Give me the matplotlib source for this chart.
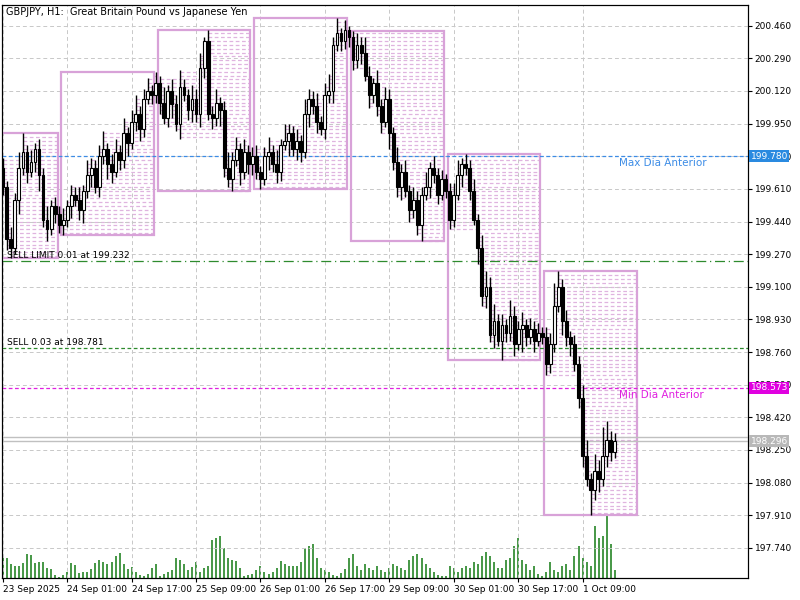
import matplotlib
matplotlib.use("Agg")
import matplotlib.pyplot as plt
import numpy as np
from matplotlib.patches import Rectangle

closes = [199.62,199.35,199.30,199.55,199.72,199.80,199.70,199.75,199.82,199.68,199.45,199.40,199.52,199.48,199.42,
 199.45,199.52,199.58,199.55,199.50,199.60,199.68,199.72,199.62,199.78,199.82,199.74,199.70,199.80,199.76,199.90,199.85,199.96,200.00,199.92,200.08,200.12,200.10,200.16,
 200.06,199.98,200.12,200.05,199.95,200.14,200.10,200.02,200.08,200.00,200.24,200.38,200.00,199.98,200.06,200.02,199.72,199.66,199.76,199.82,199.70,199.80,199.74,199.78,
 199.70,199.66,199.78,199.80,199.74,199.70,199.84,199.86,199.90,199.82,199.86,199.80,200.00,200.08,200.04,199.96,199.92,200.10,200.12,200.36,200.42,200.38,200.44,200.40,
 200.28,200.36,200.32,200.20,200.10,200.16,200.04,199.96,200.08,199.90,199.75,199.62,199.70,199.60,199.50,199.55,199.42,199.58,199.62,199.72,199.68,199.58,199.66,199.60,
 199.45,199.58,199.68,199.74,199.72,199.60,199.45,199.30,199.05,199.10,198.85,198.92,198.82,198.90,198.86,198.95,198.80,198.88,198.90,198.84,198.88,198.82,198.86,198.84,
 198.70,198.80,199.00,199.10,198.92,198.84,198.80,198.70,198.52,198.22,198.10,198.04,198.14,198.10,198.22,198.30,198.24,198.296]
first_open = 199.72
wick_up = [5,3,6,4,8,10,4,6,3,5,4,7,3,5,4,
 6,3,5,4,7,3,8,5,4,6,9,3,5,7,4,8,3,6,10,4,5,7,3,6,
 4,8,3,6,5,9,4,3,7,5,8,2,6,4,7,3,5,8,4,6,3,7,4,5,
 6,3,5,8,4,7,3,9,5,4,6,3,8,5,4,7,3,6,9,4,8,3,5,2,
 3,6,4,8,5,3,7,4,6,5,3,8,4,6,3,7,5,4,8,3,6,4,5,3,
 4,6,8,3,5,4,6,3,7,8,5,9,4,6,3,8,5,4,7,3,6,4,5,3,
 5,6,12,8,4,6,3,5,4,7,8,3,9,6,15,10,5,4]
wick_dn = [4,6,5,3,7,4,6,3,5,8,4,6,3,5,4,
 5,4,6,3,5,7,4,6,3,5,4,8,6,3,5,4,7,3,5,6,4,3,5,4,
 6,3,5,7,4,8,3,5,6,4,7,5,3,6,4,8,5,4,6,3,7,4,5,6,
 4,5,3,7,4,6,5,3,8,4,6,5,3,7,4,6,3,5,4,6,3,5,4,5,
 5,4,6,3,7,4,5,6,3,8,4,5,7,3,6,4,5,8,3,6,4,5,3,4,
 5,4,3,6,4,5,3,8,5,6,4,7,3,10,5,4,6,3,12,5,4,6,3,4,
 6,5,4,3,7,5,6,4,5,6,4,13,5,7,4,6,5,3]
volumes = [22,20,14,12,12,15,24,23,15,16,16,10,9,3,1,
 3,6,15,13,5,6,6,9,15,18,16,14,16,22,25,14,9,11,6,3,2,4,10,14,
 2,4,6,8,20,18,14,8,11,16,6,10,12,38,40,42,30,20,18,17,10,2,3,4,
 8,12,6,4,6,10,17,14,12,12,12,16,30,32,34,20,10,8,6,3,2,5,9,20,
 24,12,8,14,10,8,12,8,6,10,14,12,10,8,18,22,24,20,14,10,6,3,2,2,
 12,10,6,10,12,10,16,14,22,26,22,16,10,10,18,20,32,40,18,14,8,12,4,2,
 6,16,8,6,12,14,8,22,32,20,16,12,52,40,42,62,34,8]
day_starts = [0, 15, 39, 63, 87, 111, 135]
day_box_left = [-0.6, 14.5, 38.5, 62.5, 86.5, 110.5, 134.5]
day_box_right = [13.8, 37.5, 61.5, 85.5, 109.5, 133.5, 157.5]
tick_idx = [0,16,32,48,64,80,96,112,128,144]
tick_labels = ["23 Sep 2025","24 Sep 01:00","24 Sep 17:00","25 Sep 09:00","26 Sep 01:00",
               "26 Sep 17:00","29 Sep 09:00","30 Sep 01:00","30 Sep 17:00","1 Oct 09:00"]
price_ticks = [200.460,200.290,200.120,199.950,199.780,199.610,199.440,199.270,199.100,
               198.930,198.760,198.590,198.420,198.250,198.080,197.910,197.740]
max_prev = 199.780
min_prev = 198.573
sell_limit = 199.232
sell = 198.781
bid, ask = 198.296, 198.317

c = np.array(closes)
o = np.concatenate([[first_open], c[:-1]])
h = np.maximum(o, c) + np.array(wick_up) * 0.01
l = np.minimum(o, c) - np.array(wick_dn) * 0.01
n = len(c)
x = np.arange(n)
YMIN, YMAX = 197.584, 200.569

fig = plt.figure(figsize=(8, 6), dpi=100)
ax = fig.add_axes([0.0025, 0.037, 0.932, 0.955])
axv = ax.twinx()
axv.set_ylim(0, 575)
axv.vlines(x, 0, volumes, color='#137a13', lw=1.1)
axv.set_yticks([])
axv.set_zorder(0)
ax.set_zorder(1)
ax.patch.set_visible(False)

ax.set_xlim(-0.2, 185)
ax.set_ylim(YMIN, YMAX)

pink = '#d8a2d8'
ends = day_starts[1:] + [n]
for k, s in enumerate(day_starts):
    e = ends[k]
    dh, dl = h[s:e].max(), l[s:e].min()
    left, right = day_box_left[k], day_box_right[k]
    ax.add_patch(Rectangle((left, dl), right - left, dh - dl, fill=False, ec=pink, lw=1.6, zorder=2))
    lvl = np.arange(np.ceil(dl / 0.02) * 0.02, dh, 0.02)
    for p in lvl:
        idx = np.where((h[s:e] >= p) & (l[s:e] <= p))[0]
        if len(idx):
            ax.hlines(p, s + idx[0], right, colors=pink, lw=0.9, linestyles=(0, (3, 2)), alpha=0.8, zorder=1)

ax.vlines(x, l, h, color='black', lw=1, zorder=3)
up = c >= o
ax.bar(x[up], (c - o)[up], bottom=o[up], width=0.7, color='white', edgecolor='black', lw=0.8, zorder=4)
ax.bar(x[~up], (o - c)[~up], bottom=c[~up], width=0.7, color='black', edgecolor='black', lw=0.8, zorder=4)

ax.axhline(max_prev, color='#3c8ce6', lw=0.9, ls=(0, (3, 2)), zorder=2)
ax.axhline(min_prev, color='#e020e0', lw=0.9, ls=(0, (3, 2)), zorder=2)
ax.axhline(sell_limit, color='#2e8b2e', lw=0.9, ls=(0, (8, 3, 1, 3)), zorder=2)
ax.axhline(sell, color='#2e8b2e', lw=0.9, ls=(0, (3, 2)), zorder=2)
ax.axhline(bid, color='#c0c0c0', lw=1, zorder=2)
ax.axhline(ask, color='#c0c0c0', lw=1, zorder=2)

ax.text(153, max_prev - 0.01, "Max Dia Anterior", color='#3c8ce6', fontsize=7.5, va='top')
ax.text(153, min_prev - 0.01, "Min Dia Anterior", color='#e020e0', fontsize=7.5, va='top')
ax.text(1, sell_limit + 0.005, "SELL LIMIT 0.01 at 199.232", fontsize=6.5, va='bottom')
ax.text(1, sell + 0.005, "SELL 0.03 at 198.781", fontsize=6.5, va='bottom')
ax.text(0.005, 0.997, "GBPJPY, H1:  Great Britain Pound vs Japanese Yen", transform=ax.transAxes,
        fontsize=7, va='top')

ax.set_xticks(tick_idx)
ax.set_xticklabels(tick_labels, fontsize=6.5, ha='left')
ax.set_yticks(price_ticks)
ax.yaxis.tick_right()
ax.yaxis.set_label_position('right')
ax.set_yticklabels([f"{p:.3f}" for p in price_ticks], fontsize=6.5)
ax.tick_params(length=3, pad=2)
ax.grid(True, color='#c8c8c8', ls=(0, (4, 3)), lw=0.7, zorder=0)

for val, fc, tc in [(max_prev, '#2a8ae0', 'white'), (min_prev, '#e000e0', 'white'), (bid, '#b8b8b8', 'white')]:
    ax.text(1.004, (val - YMIN) / (YMAX - YMIN), f"{val:.3f}", transform=ax.transAxes,
            fontsize=6.5, color=tc, va='center', ha='left',
            bbox=dict(boxstyle='square,pad=0.15', fc=fc, ec='none'))

for a in (ax, axv):
    for sp in a.spines.values():
        sp.set_linewidth(0.8)

fig.savefig("out.png", dpi=100)
